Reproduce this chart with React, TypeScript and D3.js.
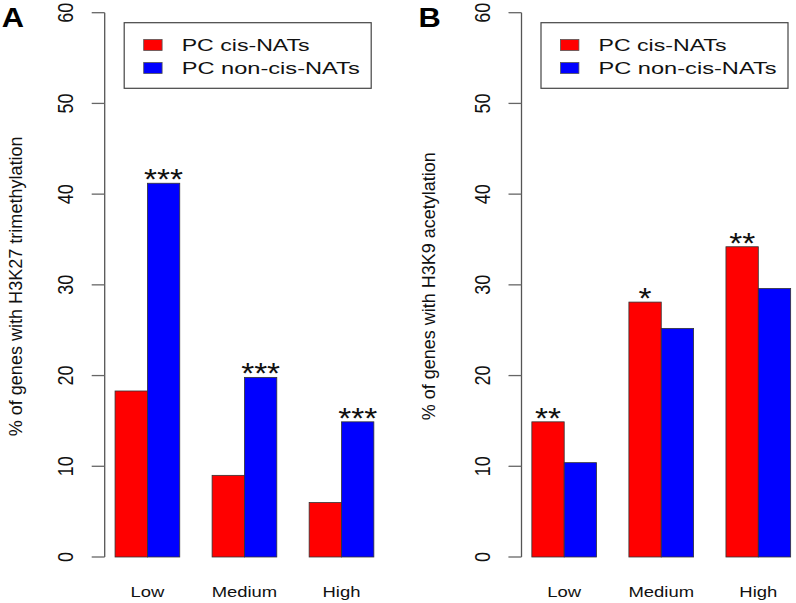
import React from "react";
import * as d3 from "d3";

const categories = ["Low", "Medium", "High"];
const seriesNames = ["PC cis-NATs", "PC non-cis-NATs"];
const seriesColors = ["#ff0000", "#0000ff"];
const h3k27Cis = [18.3, 9.0, 6.0];
const h3k27NonCis = [41.2, 19.8, 14.9];
const h3k9Cis = [14.9, 28.1, 34.2];
const h3k9NonCis = [10.4, 25.2, 29.6];
const h3k27Stars = [["", "***"], ["", "***"], ["", "***"]];
const h3k9Stars = [["**", ""], ["*", ""], ["**", ""]];
const yTicks = [0, 10, 20, 30, 40, 50, 60];

const FONT = "'Liberation Sans', Arial, Helvetica, sans-serif";
const W = 796;
const H = 603;

type PanelProps = {
  plotLeft: number;
  letter: string;
  title: string;
  titleLen: number;
  titleOffset: number;
  cis: number[];
  nonCis: number[];
  stars: string[][];
};

function Panel({ plotLeft, letter, title, titleLen, titleOffset, cis, nonCis, stars }: PanelProps) {
  const unit = 32.35;
  // R barplot: bars at units [1..9], xlim extended by 4%
  const x = d3.scaleLinear().domain([0.68, 9.32]).range([plotLeft, plotLeft + 8.64 * unit]);
  const y = d3.scaleLinear().domain([0, 60]).range([557, 12.7]);
  const series = [cis, nonCis];
  const bars: { x0: number; x1: number; v: number; s: number; g: number }[] = [];
  categories.forEach((_, g) => {
    series.forEach((vals, s) => {
      const start = 1 + g * 3 + s;
      bars.push({ x0: x(start), x1: x(start + 1), v: vals[g], s, g });
    });
  });
  const tickX = plotLeft - 31.7;
  const legX = plotLeft + 19.5;
  return (
    <g>
      <text x={plotLeft - 103} y={27} fontFamily={FONT} fontWeight="bold" fontSize={28}
        transform={`translate(${plotLeft - 103},0) scale(1.1,1) translate(${-(plotLeft - 103)},0)`}>
        {letter}
      </text>
      {/* axis */}
      <line x1={plotLeft} x2={plotLeft} y1={y(60)} y2={y(0)} stroke="#555" strokeWidth={1.3} />
      {yTicks.map((t) => (
        <g key={t}>
          <line x1={plotLeft - 13} x2={plotLeft} y1={y(t)} y2={y(t)} stroke="#666" strokeWidth={1.3} />
          <text
            transform={`translate(${tickX},${y(t)}) scale(1.24,1) rotate(-90)`}
            textAnchor="middle"
            fontFamily={FONT}
            fontSize={18}
            fill="#111"
          >
            {t}
          </text>
        </g>
      ))}
      <text
        transform={`translate(${plotLeft + titleOffset},${y(30) + 1.5}) rotate(-90)`}
        textAnchor="middle"
        fontFamily={FONT}
        fontSize={18}
        textLength={titleLen}
        lengthAdjust="spacingAndGlyphs"
        fill="#111"
      >
        {title}
      </text>
      {/* bars */}
      {bars.map((b, i) => (
        <rect key={i} x={b.x0} y={y(b.v)} width={b.x1 - b.x0} height={y(0) - y(b.v)}
          fill={seriesColors[b.s]} stroke="#333" strokeWidth={0.8} />
      ))}
      {bars.map((b, i) => {
        const st = stars[b.g][b.s];
        if (!st) return null;
        const cx = (b.x0 + b.x1) / 2;
        return (
          <text key={"s" + i}
            transform={`translate(${cx},${y(b.v) + 5.8}) scale(1.15,1)`}
            textAnchor="middle" fontFamily={FONT} fontSize={29} fill="#111">
            {st}
          </text>
        );
      })}
      {/* category labels */}
      {categories.map((c, g) => (
        <text key={c}
          transform={`translate(${x(2 + g * 3)},597) scale(1.23,1)`}
          textAnchor="middle" fontFamily={FONT} fontSize={15} fill="#111">
          {c}
        </text>
      ))}
      {/* legend */}
      <rect x={legX} y={22.7} width={247} height={65.6} fill="#fff" stroke="#444" strokeWidth={1.2} />
      {seriesNames.map((n, i) => (
        <g key={n}>
          <rect x={plotLeft + 39} y={39.5 + i * 23} width={18.4} height={11} fill={seriesColors[i]}
            stroke="#555" strokeWidth={0.8} />
          <text x={plotLeft + 77} y={51 + i * 22.5} fontFamily={FONT} fontSize={17}
            textLength={i === 0 ? 128 : 178} lengthAdjust="spacingAndGlyphs" fill="#111">
            {n}
          </text>
        </g>
      ))}
    </g>
  );
}

export default function App() {
  return (
    <svg width={W} height={H} style={{ position: "absolute", left: 0, top: 0, display: "block", background: "#fff" }}>
      <rect width={W} height={H} fill="#fff" />
      <Panel plotLeft={104.7} letter="A" title="% of genes with H3K27 trimethylation" titleLen={300}
        titleOffset={-83} cis={h3k27Cis} nonCis={h3k27NonCis} stars={h3k27Stars} />
      <Panel plotLeft={521.5} letter="B" title="% of genes with H3K9 acetylation" titleLen={268}
        titleOffset={-86.5} cis={h3k9Cis} nonCis={h3k9NonCis} stars={h3k9Stars} />
    </svg>
  );
}
